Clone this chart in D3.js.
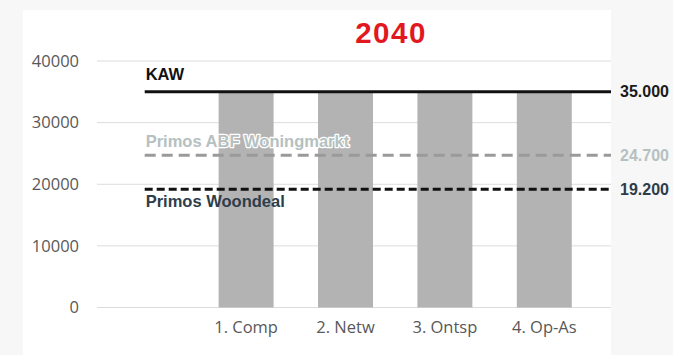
<!DOCTYPE html>
<html>
<head>
<meta charset="utf-8">
<script src="https://cdn.jsdelivr.net/npm/d3@7/dist/d3.min.js"></script>
<style>
  html, body { margin: 0; padding: 0; background: #f7f7f7; }
  svg { display: block; }
</style>
</head>
<body>
<svg id="chart" width="673" height="355"></svg>
<script>
// Categories (the first slot is left empty to hold the reference-line labels)
const categories = ["", "1. Comp", "2. Netw", "3. Ontsp", "4. Op-As"];
const barValues = [null, 35000, 35000, 35000, 35000];
const yTicks = [0, 10000, 20000, 30000, 40000];

// Reference lines
const refNames = ["KAW", "Primos ABF Woningmarkt", "Primos Woondeal"];
const refValues = [35000, 24700, 19200];
const refLabels = ["35.000", "24.700", "19.200"];

const title = "2040";

const svg = d3.select("#chart");

// white panel
svg.append("rect").attr("x", 23).attr("y", 10).attr("width", 588).attr("height", 345).attr("fill", "#ffffff");

const plotLeft = 97, plotRight = 611;
const y = d3.scaleLinear().domain([0, 40000]).range([307.5, 61]);
const x = d3.scaleBand().domain(categories).range([97, 594]).paddingInner(0.447).paddingOuter(0.2235);

// gridlines
svg.append("g").selectAll("line").data(yTicks).join("line")
  .attr("x1", plotLeft).attr("x2", plotRight)
  .attr("y1", d => y(d)).attr("y2", d => y(d))
  .attr("stroke", "#dcdcdc").attr("stroke-width", 1);

// y axis labels
const yAxis = d3.axisLeft(y).tickValues(yTicks).tickSize(0).tickPadding(0).tickFormat(d3.format("d"));
const yg = svg.append("g").attr("transform", `translate(79,0)`).call(yAxis);
yg.select(".domain").remove();
yg.selectAll("text").attr("font-family", "'Open Sans', sans-serif").attr("font-size", "16.5px").attr("fill", "#585858");

// x axis labels
const xAxis = d3.axisBottom(x).tickSize(0).tickPadding(0);
const xg = svg.append("g").attr("transform", `translate(0,321)`).call(xAxis);
xg.select(".domain").remove();
xg.selectAll("text").attr("font-family", "'Open Sans', sans-serif").attr("font-size", "16.5px").attr("fill", "#585858");

// bars
svg.append("g").selectAll("rect").data(categories.map((c, i) => ({c, v: barValues[i]})).filter(d => d.v != null))
  .join("rect")
  .attr("x", d => x(d.c)).attr("width", x.bandwidth())
  .attr("y", d => y(d.v)).attr("height", d => y(0) - y(d.v))
  .attr("fill", "#b3b3b3");

// reference lines
const lineStart = x(categories[0]) + x.bandwidth() / 2 - 2;
const lineStyles = [
  { stroke: "#111111", dash: null, text: "#111111", val: "#1a1a1a", dy: -11.5, halo: false },
  { stroke: "#9a9a9a", dash: "11,6", text: "#b5c1c1", val: "#b5c1c1", dy: -8.5, halo: true },
  { stroke: "#111111", dash: "8,4", text: "#2e3d4a", val: "#2e3d4a", dy: 18, halo: false }
];

refValues.forEach((v, i) => {
  const s = lineStyles[i];
  svg.append("line")
    .attr("x1", lineStart).attr("x2", plotRight)
    .attr("y1", y(v)).attr("y2", y(v))
    .attr("stroke", s.stroke).attr("stroke-width", 3)
    .attr("stroke-dasharray", s.dash);
});

refValues.forEach((v, i) => {
  const s = lineStyles[i];
  const t = svg.append("text")
    .attr("x", lineStart + 1).attr("y", y(v) + s.dy)
    .attr("font-family", "'Liberation Sans', Arial, sans-serif")
    .attr("font-weight", "bold").attr("font-size", "16.5px")
    .attr("fill", s.text)
    .text(refNames[i]);
  if (s.halo) {
    t.attr("stroke", "#ffffff").attr("stroke-width", 2.5).attr("paint-order", "stroke").attr("stroke-linejoin", "round");
  }
  svg.append("text")
    .attr("x", 620).attr("y", y(v)).attr("dy", "0.35em")
    .attr("font-family", "'Liberation Sans', Arial, sans-serif")
    .attr("font-weight", "bold").attr("font-size", "16px")
    .attr("fill", s.val)
    .text(refLabels[i]);
});

// title
svg.append("text")
  .attr("x", 391).attr("y", 43).attr("text-anchor", "middle")
  .attr("font-family", "'Liberation Sans', Arial, sans-serif")
  .attr("font-weight", "bold").attr("font-size", "29.5px")
  .attr("letter-spacing", "1.5px")
  .attr("fill", "#e1191f")
  .text(title);
</script>
</body>
</html>
